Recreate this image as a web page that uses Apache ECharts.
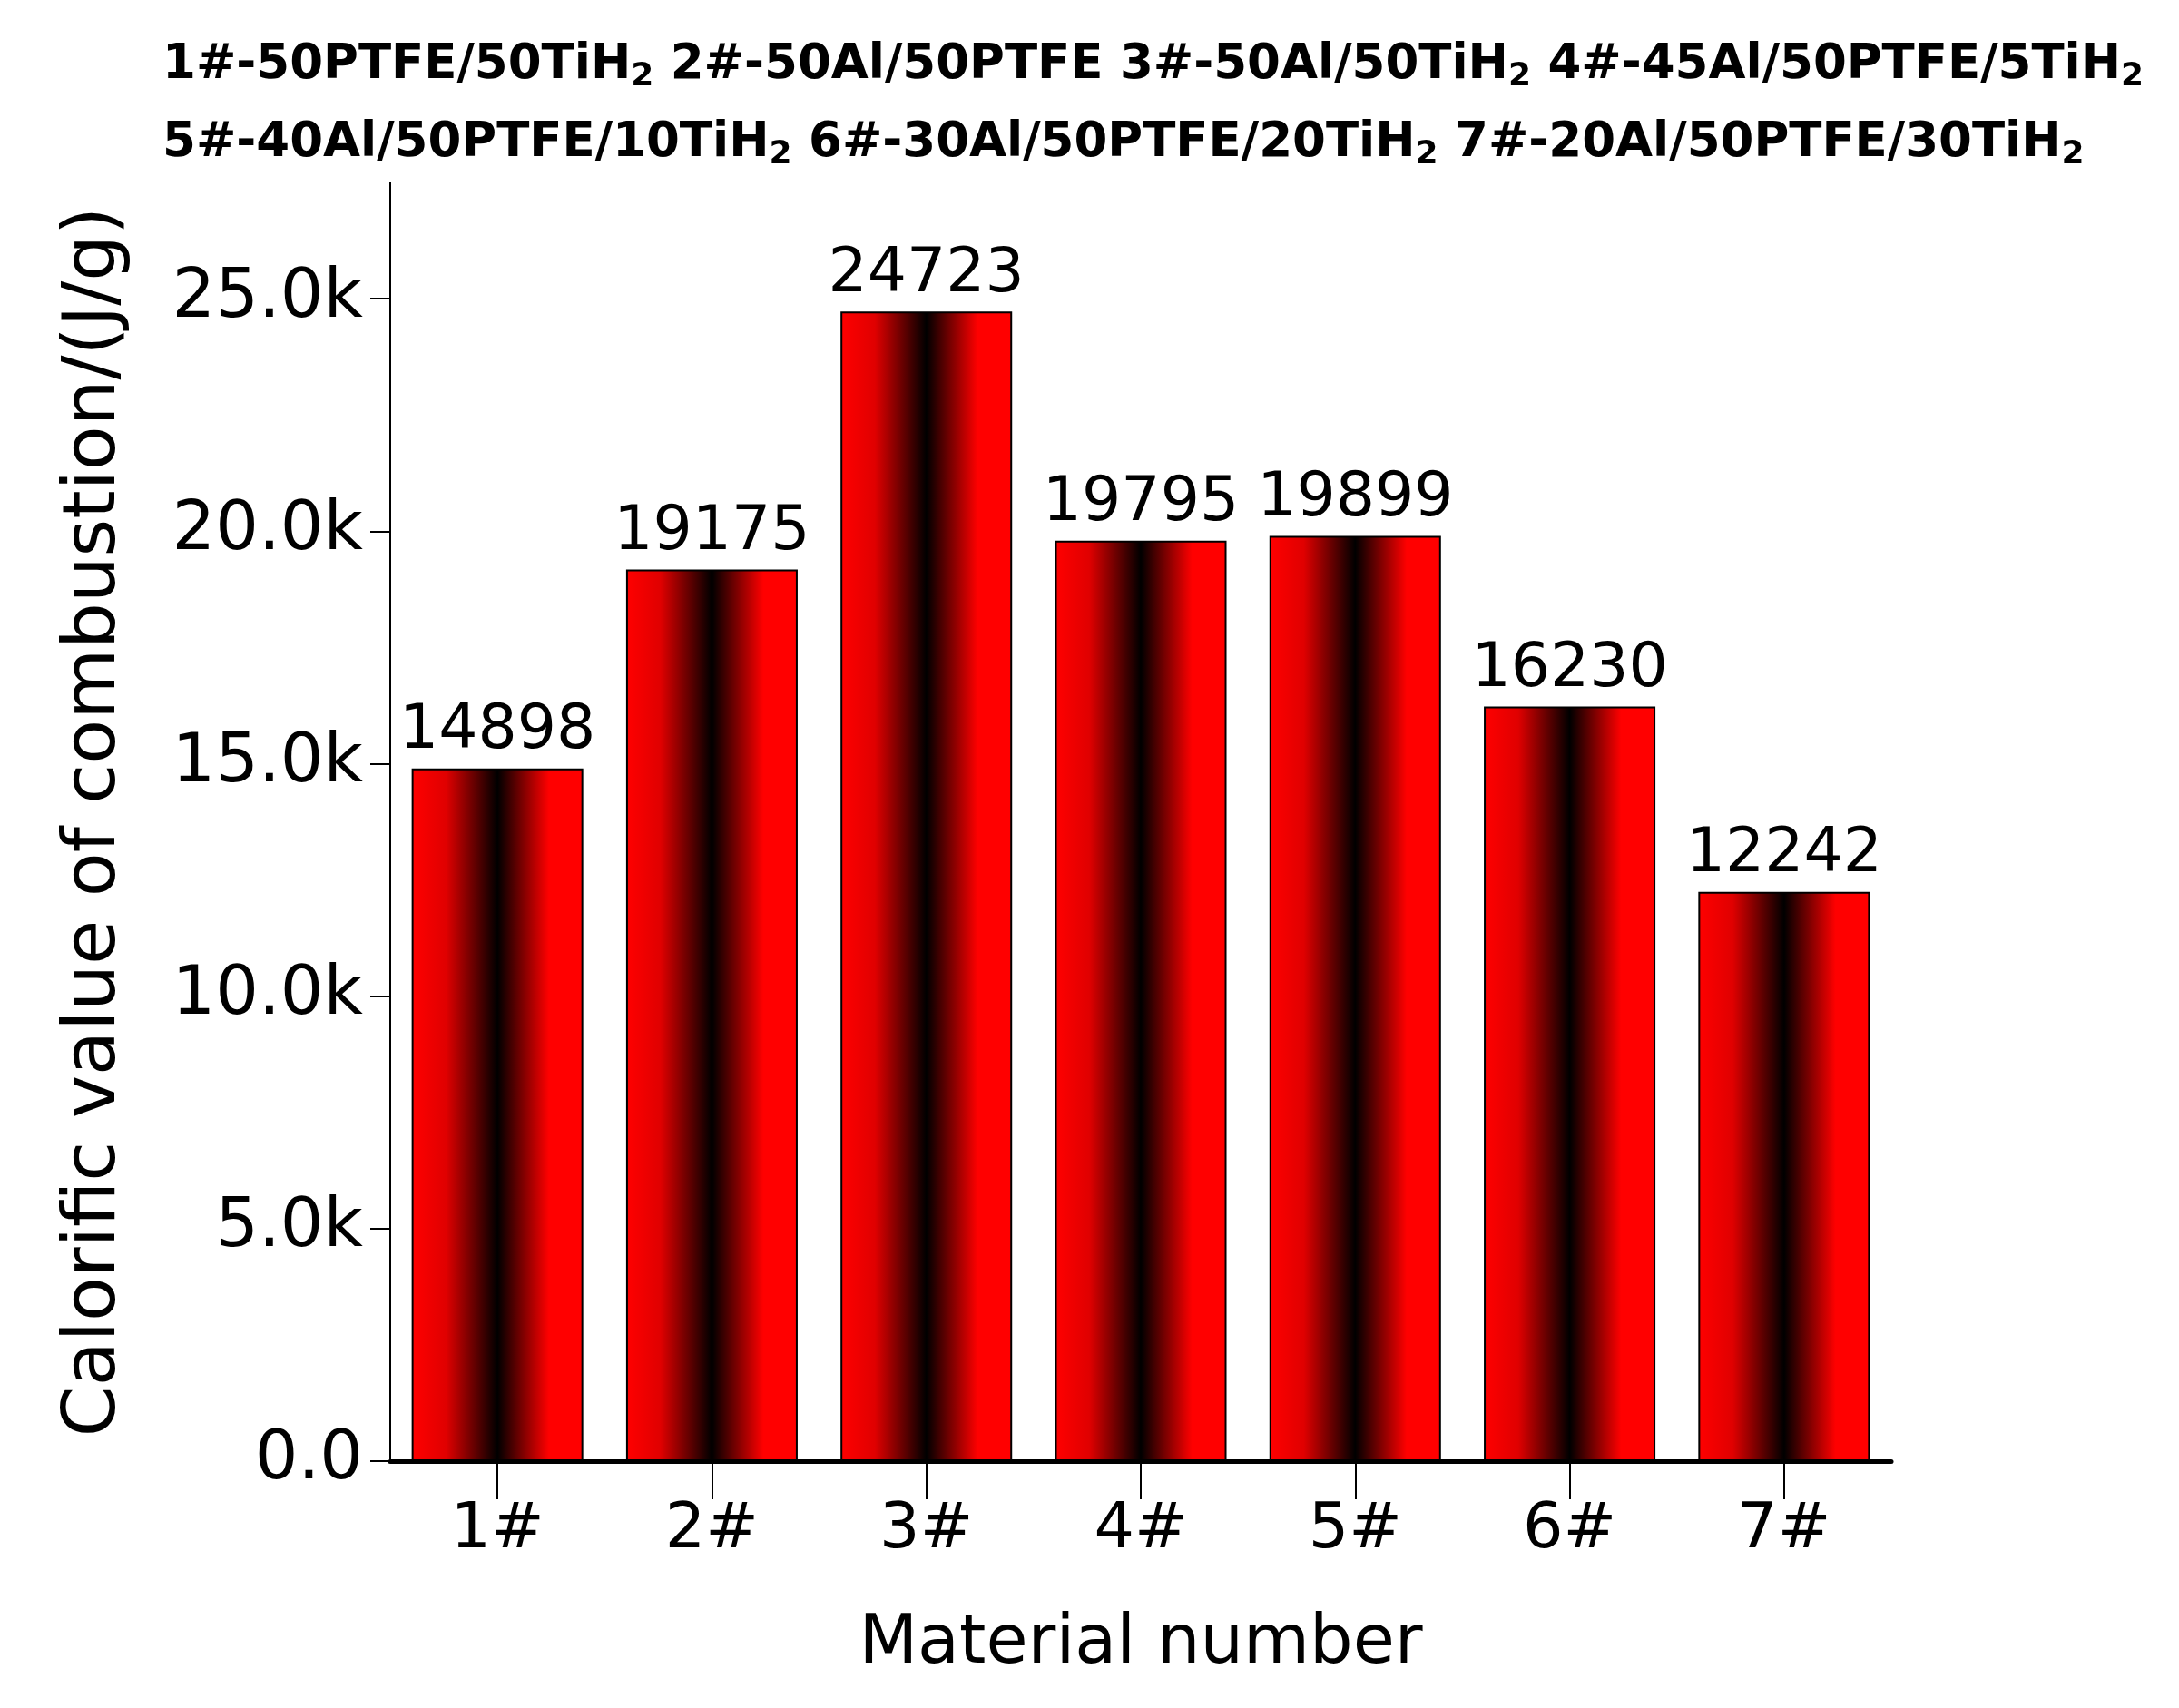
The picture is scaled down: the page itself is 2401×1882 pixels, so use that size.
<!DOCTYPE html><html><head><meta charset="utf-8">
<script src="https://cdn.jsdelivr.net/npm/echarts@6/dist/echarts.min.js"></script>
<style>html,body{margin:0;background:#fff}#c{width:2401px;height:1882px}</style></head><body><div id="c"></div>
<script>
const categories=['1#','2#','3#','4#','5#','6#','7#'];
const values=[14898,19175,24723,19795,19899,16230,12242];
const yTicks=[0,5000,10000,15000,20000,25000];
const headerLine1=[['1#-50PTFE/50TiH','2'],[' 2#-50Al/50PTFE',''],[' 3#-50Al/50TiH','2'],[' 4#-45Al/50PTFE/5TiH','2']];
const headerLine2=[['5#-40Al/50PTFE/10TiH','2'],[' 6#-30Al/50PTFE/20TiH','2'],[' 7#-20Al/50PTFE/30TiH','2']];
function rich(line){return line.map(([t,s])=>'{b|'+t+'}'+(s?'{s|'+s+'}':'')).join('');}
const F='DejaVu Sans';
const richStyle={b:{fontFamily:F,fontWeight:'bold',fontSize:53,color:'#000'},s:{fontFamily:F,fontWeight:'bold',fontSize:36,color:'#000',padding:[26,0,0,0]}};
const chart=echarts.init(document.getElementById('c'),null,{renderer:'canvas'});
const grad=new echarts.graphic.LinearGradient(0,0,1,0,[{offset:0,color:'#ff0000'},{offset:0.2,color:'#e00000'},{offset:0.5,color:'#000000'},{offset:0.8,color:'#ff0000'},{offset:1,color:'#ff0000'}]);
chart.setOption({
 animation:false,
 title:[{text:rich(headerLine1),left:174,top:36,textStyle:{rich:richStyle}},
        {text:rich(headerLine2),left:174,top:122,textStyle:{rich:richStyle}}],
 grid:{left:430,right:317,top:201,bottom:272},
 xAxis:{type:'category',data:categories,name:'Material number',nameLocation:'middle',nameGap:165,
  nameTextStyle:{fontFamily:F,fontSize:75,color:'#000'},
  axisLine:{lineStyle:{color:'#000',width:5}},
  axisTick:{show:true,interval:0,alignWithLabel:true,length:42,lineStyle:{color:'#000',width:2}},
  axisLabel:{fontFamily:F,fontSize:70,color:'#000',margin:42}},
 yAxis:{type:'value',min:0,max:27500,name:'Calorific value of combustion/(J/g)',nameLocation:'middle',nameGap:285,
  nameTextStyle:{fontFamily:F,fontSize:80,color:'#000'},
  splitLine:{show:false},
  axisLine:{show:true,lineStyle:{color:'#000',width:2}},
  axisTick:{show:true,length:22,customValues:yTicks,lineStyle:{color:'#000',width:2}},
  axisLabel:{fontFamily:F,fontSize:75,color:'#000',margin:30,customValues:yTicks,formatter:v=>(v/1000).toFixed(1)+(v?'k':'')}},
 series:[{type:'bar',data:values,barWidth:'80%',
  itemStyle:{color:grad,borderColor:'#000',borderWidth:2},
  label:{show:true,position:'top',fontFamily:F,fontSize:68,color:'#000',distance:6}}]
});
</script></body></html>
